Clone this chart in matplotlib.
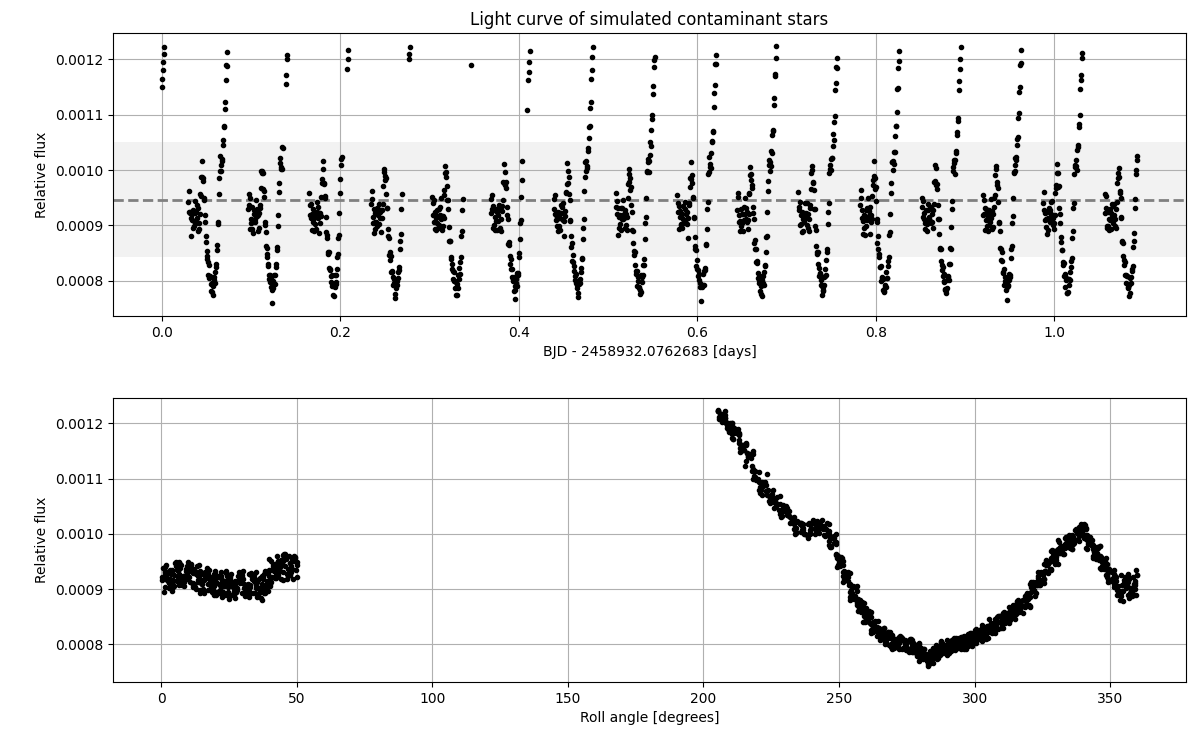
import numpy as np
import matplotlib.pyplot as plt

# exposure cadence (days) and roll change per exposure (degrees)
cadence = 0.00055
roll_step = 2.56

# time and roll angle of the first exposure of each orbit visit
t_start = [-0.0407, 0.0298, 0.0970, 0.1655, 0.2345, 0.3030, 0.3688, 0.4392, 0.5086,
           0.5776, 0.6447, 0.7133, 0.7826, 0.8516, 0.9196, 0.9877, 1.0565]
roll_start = [47.6, 50.0, 48.1, 49.3, 47.8, 48.9, 50.2, 47.5, 49.6,
              48.4, 47.7, 49.0, 48.2, 50.1, 48.6, 47.9, 49.5]

# relative flux (x1e-6) per exposure, one row per orbit, N = missing exposure
N = None
flux_ppm = [
    [N] * 74 + [1150, 1165, 1180, 1195, 1210, 1222],
    [943, 925, 962, 924, 923, 881, 913, 910, 921, 896, 927, 908, 899, 922, 944, 904, 926, 937, 913, 932,
     890, 905, 894, 920, 957, 953, 988, 1016, 987, 985, 981, 945, 950, 918, 907, 870, 880, 854, 839, 845,
     833, 811, 828, 804, 806, 808, 794, 781, 796, 779, 775, 790, 807, 801, 795, 816, 830, 824, 855, 865,
     903, 907, 957, 986, 999, 1025, 1009, 998, 1020, 1017, 1046, 1054, 1079, 1078, 1111, 1123, 1162, 1189, 1188, 1213],
    [930, 956, 937, 950, 893, 912, 904, 933, 894, 909, 886, 920, 928, 911, 906, 926, 946, 917, 929, 890,
     918, 896, 923, 931, 937, 967, 998, 998, 994, 995, 966, 962, 952, 907, 900, 888, 863, 848, 859, 843,
     826, 831, 803, 811, 811, 797, 789, 806, 783, 760, 787, 800, 794, 810, 794, 810, 830, 825, 855, 861,
     899, 919, 961, 976, 1012, 1021, 1002, 1006, 1002, 1041, 1039] + [N] * 5 + [1155, 1172, 1201, 1207],
    [958, 936, 919, 939, 914, 920, 892, 907, 930, 889, 914, 921, 903, 893, 923, 943, 924, 914, 934, 922,
     887, 922, 905, 917, 952, 976, 983, 1017, 1001, 975, 976, 953, 949, 916, 888, 882, 878, 851, 848, 852,
     823, 819, 821, 797, 808, 811, 791, 794, 775, 772, 791, 789, 810, 794, 810, 798, 821, 842, 848, 877,
     882, 922, 958, 983, 1020, 1010, 1023] + [N] * 10 + [1182, 1200, 1217],
    [938, 963, 947, 916, 904, 930, 886, 922, 907, 894, 924, 906, 932, 899, 929, 918, 938, 903, 924, 914,
     928, 888, 913, 928, 939, 972, 997, 1001, 982, 990, 985, 956, 932, 931, 894, 880, 877, 847, 852, 837,
     845, 815, 816, 818, 792, 806, 795, 803, 776, 769, 794, 786, 800, 792, 816, 805, 825, 820, 857, 871,
     885, 930, 956] + [N] * 14 + [1200, 1210, 1222],
    [951, 919, 940, 946, 907, 893, 924, 892, 914, 927, 905, 895, 917, 929, 900, 934, 918, 949, 911, 917,
     892, 917, 899, 914, 954, 964, 994, 1007, 988, 997, 971, 945, 945, 930, 897, 871, 872, 871, 842, 840,
     821, 830, 818, 803, 815, 799, 787, 799, 797, 775, 774, 794, 786, 811, 803, 823, 812, 833, 843, 881,
     889, 927, 948] + [N] * 15 + [1190, N],
    [922, 948, 955, 929, 935, 896, 901, 927, 892, 915, 908, 930, 891, 924, 918, 908, 937, 928, 896, 929,
     911, 890, 926, 935, 945, 978, 977, 1011, 996, 973, 979, 967, 934, 919, 911, 867, 870, 865, 844, 830,
     840, 822, 806, 822, 799, 803, 807, 782, 791, 767, 783, 803, 795, 790, 814, 814, 811, 843, 850, 875,
     905, 910, 951, 982, 1017] + [N] * 8 + [1108, N, N, 1162, 1178, 1195, 1215],
    [947, 930, 920, 954, 909, 919, 898, 912, 889, 924, 898, 916, 923, 892, 937, 923, 911, 934, 940, 910,
     908, 881, 917, 926, 960, 959, 974, 1013, 998, 976, 988, 956, 945, 908, 909, 880, 861, 868, 835, 846,
     834, 817, 826, 801, 808, 812, 796, 786, 793, 778, 770, 800, 794, 803, 795, 823, 815, 839, 841, 875,
     895, 912, 962, 987, 1014, 999, 1017, 1004, 1008, 1039, 1035, 1058, 1078, 1080, 1113, 1123, 1165, 1181, 1204, 1222],
    [934, 959, 944, 920, 931, 883, 915, 895, 919, 903, 932, 892, 911, 931, 912, 946, 913, 921, 927, 895,
     921, 901, 891, 916, 950, 975, 979, 992, 1002, 985, 964, 970, 937, 925, 892, 889, 869, 846, 854, 851,
     828, 812, 818, 817, 791, 800, 807, 788, 787, 784, 776, 779, 810, 806, 797, 811, 828, 829, 840, 876,
     904, 915, 950, 996, 998, 1015, 1020, 997, 1017, 1027, 1051, 1043, 1072, 1093, 1099, 1137, 1151, 1187, 1198, 1204],
    [954, 941, 925, 935, 893, 916, 926, 901, 902, 921, 895, 912, 935, 909, 904, 930, 943, 905, 920, 925,
     902, 878, 914, 937, 941, 969, 985, 1014, 983, 991, 977, 950, 951, 915, 913, 879, 858, 862, 856, 827,
     838, 822, 808, 820, 801, 812, 788, 795, 790, 764, 789, 791, 792, 813, 793, 818, 820, 823, 865, 866,
     893, 930, 943, 993, 997, 1024, 1006, 1011, 1004, 1031, 1052, 1050, 1069, 1070, 1114, 1139, 1153, 1191, 1192, 1208],
    [927, 951, 959, 906, 918, 908, 889, 930, 899, 904, 920, 889, 920, 933, 910, 921, 949, 911, 931, 907,
     924, 894, 909, 921, 959, 956, 991, 1006, 982, 993, 973, 968, 933, 923, 912, 869, 873, 857, 857, 834,
     832, 835, 805, 814, 796, 802, 808, 781, 791, 776, 773, 802, 795, 809, 792, 815, 828, 826, 852, 879,
     881, 924, 963, 980, 1010, 1019, 998, 1015, 1007, 1034, 1030, 1063, 1071, 1073, 1117, 1131, 1170, 1174, 1203, 1224],
    [960, 927, 933, 942, 900, 902, 919, 888, 924, 912, 890, 923, 907, 917, 941, 913, 923, 941, 901, 921,
     896, 911, 889, 932, 936, 966, 995, 1000, 1008, 977, 978, 964, 929, 929, 898, 892, 862, 849, 852, 851,
     831, 809, 823, 812, 814, 793, 802, 790, 774, 788, 782, 784, 807, 792, 808, 822, 810, 837, 851, 858,
     903, 924, 941, 995, 1009, 1001, 1020, 1000, 1021, 1022, 1044, 1066, 1055, 1087, 1097, 1145, 1158, 1186, 1185, 1202],
    [936, 964, 950, 913, 927, 885, 908, 918, 895, 882, 917, 927, 898, 910, 932, 949, 916, 926, 917, 934,
     884, 907, 919, 912, 953, 973, 982, 1017, 989, 986, 965, 969, 944, 912, 906, 868, 881, 858, 843, 849,
     825, 825, 827, 799, 805, 807, 784, 803, 781, 780, 793, 788, 789, 815, 804, 804, 826, 835, 842, 882,
     888, 920, 959, 976, 1014, 1015, 1000, 1017, 1011, 1033, 1032, 1062, 1080, 1079, 1105, 1146, 1148, 1184, 1197, 1216],
    [949, 934, 916, 944, 911, 923, 893, 905, 927, 908, 889, 903, 927, 938, 916, 911, 933, 908, 933, 904,
     907, 920, 896, 927, 938, 978, 980, 1009, 1004, 973, 975, 965, 937, 911, 912, 885, 857, 859, 858, 836,
     820, 828, 824, 808, 797, 813, 800, 783, 785, 783, 777, 801, 786, 808, 807, 801, 830, 831, 859, 857,
     897, 929, 944, 999, 1005, 1013, 1018, 992, 1019, 1030, 1034, 1068, 1064, 1088, 1094, 1144, 1160, 1183, 1200, 1223],
    [919, 954, 945, 921, 932, 891, 929, 909, 898, 918, 912, 890, 922, 900, 927, 922, 907, 947, 914, 926,
     893, 897, 921, 933, 949, 954, 991, 1001, 1007, 978, 973, 968, 943, 907, 905, 889, 860, 858, 838, 852,
     836, 816, 814, 821, 792, 807, 799, 784, 798, 765, 788, 793, 791, 812, 801, 811, 807, 841, 857, 862,
     905, 917, 950, 995, 996, 1022, 1010, 999, 1023, 1019, 1046, 1056, 1060, 1094, 1103, 1141, 1150, 1189, 1194, 1217],
    [941, 961, 928, 910, 922, 911, 897, 925, 884, 914, 892, 932, 909, 927, 907, 942, 920, 915, 944, 900,
     913, 893, 904, 918, 958, 968, 973, 1011, 994, 994, 970, 971, 932, 920, 904, 870, 879, 855, 855, 828,
     834, 832, 809, 809, 813, 789, 802, 805, 777, 778, 780, 803, 793, 803, 815, 801, 824, 836, 841, 878,
     890, 932, 940, 993, 1009, 1005, 1019, 1007, 1000, 1036, 1042, 1046, 1078, 1084, 1100, 1147, 1163, 1172, 1202, 1212],
    [956, 923, 953, 932, 896, 898, 925, 898, 911, 891, 929, 909, 894, 923, 916, 938, 905, 935, 918, 938,
     899, 912, 895, 930, 942, 976, 986, 995, 1003, 988, 963, 958, 949, 915, 913, 872, 870, 868, 845, 829,
     838, 834, 811, 811, 795, 808, 808, 787, 788, 773, 792, 778, 805, 806, 795, 822, 817, 827, 861, 872,
     887, 931, 947, 992, 1000, 1018, 1025],
]

# mean level and +-1 sigma band drawn on the light curve
flux_mean = 0.000946
band_lo, band_hi = 0.000843, 0.001051

time, roll, flux = [], [], []
for t0, r0, row in zip(t_start, roll_start, flux_ppm):
    for j, f in enumerate(row):
        if f is None:
            continue
        time.append(t0 + j * cadence)
        roll.append((r0 - j * roll_step) % 360)
        flux.append(f * 1e-6)

fig = plt.figure(figsize=(11.88, 7.42), dpi=100)
ax1 = fig.add_axes([0.0951, 0.5741, 0.9032, 0.3814])
ax2 = fig.add_axes([0.0951, 0.0809, 0.9032, 0.3827])

ax1.axhspan(band_lo, band_hi, color='gray', alpha=0.1, lw=0)
ax1.axhline(flux_mean, color='gray', ls='--', lw=2)
ax1.plot(time, flux, 'k.')
ax1.grid(True)
ax1.set_ylim(0.0007362, 0.0012476)
ax1.set_title('Light curve of simulated contaminant stars')
ax1.set_xlabel('BJD - 2458932.0762683 [days]')
ax1.set_ylabel('Relative flux')

ax2.plot(roll, flux, 'k.')
ax2.grid(True)
ax2.set_ylim(0.0007318, 0.0012458)
ax2.set_xlabel('Roll angle [degrees]')
ax2.set_ylabel('Relative flux')

fig.savefig('out.png', dpi=100)
